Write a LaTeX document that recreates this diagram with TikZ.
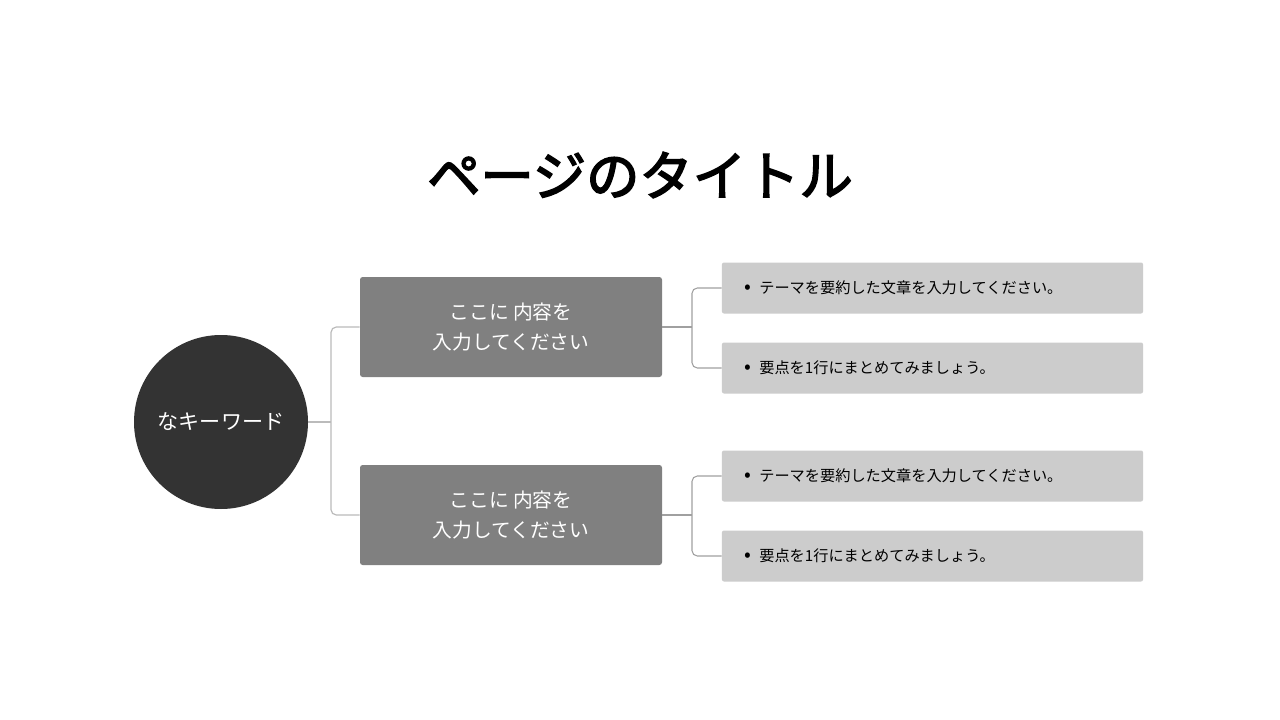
\documentclass[tikz,border=0pt]{standalone}
\usepackage{fontspec}
\setmainfont{Noto Sans CJK JP}
\newfontfamily\titlefont[FakeBold=3]{Noto Sans CJK JP}
\usetikzlibrary{calc}
\definecolor{keygray}{HTML}{333333}
\definecolor{midgray}{HTML}{808080}
\definecolor{leafgray}{HTML}{CCCCCC}
\definecolor{linkgray}{HTML}{BBBBBB}
\definecolor{sublinkgray}{HTML}{A0A0A0}
\newcommand{\leafdot}{{\fontsize{15}{13}\selectfont•}\hspace{6pt}}
\tikzset{
  % Three node styles for the map: key, middle and leaf
  key node/.style={circle,fill=keygray,text=white,minimum size=130.5pt,inner sep=0,font=\fontsize{15.8}{18}\selectfont},
  mid node/.style={rectangle,rounded corners=2pt,fill=midgray,text=white,minimum width=226.5pt,minimum height=75pt,align=center,font=\fontsize{14.8}{22.5}\selectfont},
  leaf node/.style={rectangle,rounded corners=1.5pt,fill=leafgray,text=black,minimum width=315.75pt,minimum height=38.25pt,text width=282pt,inner xsep=16.9pt,align=left,font=\fontsize{11.4}{13}\selectfont},
  link/.style={draw=linkgray,line width=0.9pt,rounded corners=4pt},
  sublink/.style={draw=sublinkgray,line width=0.8pt,rounded corners=4pt}
}

\begin{document}
\begin{tikzpicture}[x=0.75pt,y=-0.75pt]
  \useasboundingbox[fill=white] (0,0) rectangle (1280,720);
  % Title
  \node(t) at (640,175) {\fontsize{40}{44}\selectfont\titlefont ページのタイトル};
  % The map
  \node(k)[key node] at (221,422) {なキーワード};
  \node(1)[mid node] at (511,327) {ここに 内容を\\入力してください};
  \node(2)[mid node] at (511,515) {ここに 内容を\\入力してください};
  \node(11)[leaf node] at (932.5,288) {\leafdot テーマを要約した文章を入力してください。};
  \node(12)[leaf node] at (932.5,368) {\leafdot 要点を1行にまとめてみましょう。};
  \node(21)[leaf node] at (932.5,476) {\leafdot テーマを要約した文章を入力してください。};
  \node(22)[leaf node] at (932.5,556) {\leafdot 要点を1行にまとめてみましょう。};
  % junctions
  \coordinate(j) at (331,422);
  \coordinate(j1) at (692,327);
  \coordinate(j2) at (692,515);
  % connectors
  \draw[link] (k.east) -- (j);
  \draw[link] (1.west) -| (j) |- (2.west);
  \draw[sublink] (1.east) -- (j1);
  \draw[sublink] (11.west) -| (j1) |- (12.west);
  \draw[sublink] (2.east) -- (j2);
  \draw[sublink] (21.west) -| (j2) |- (22.west);
\end{tikzpicture}
\end{document}
